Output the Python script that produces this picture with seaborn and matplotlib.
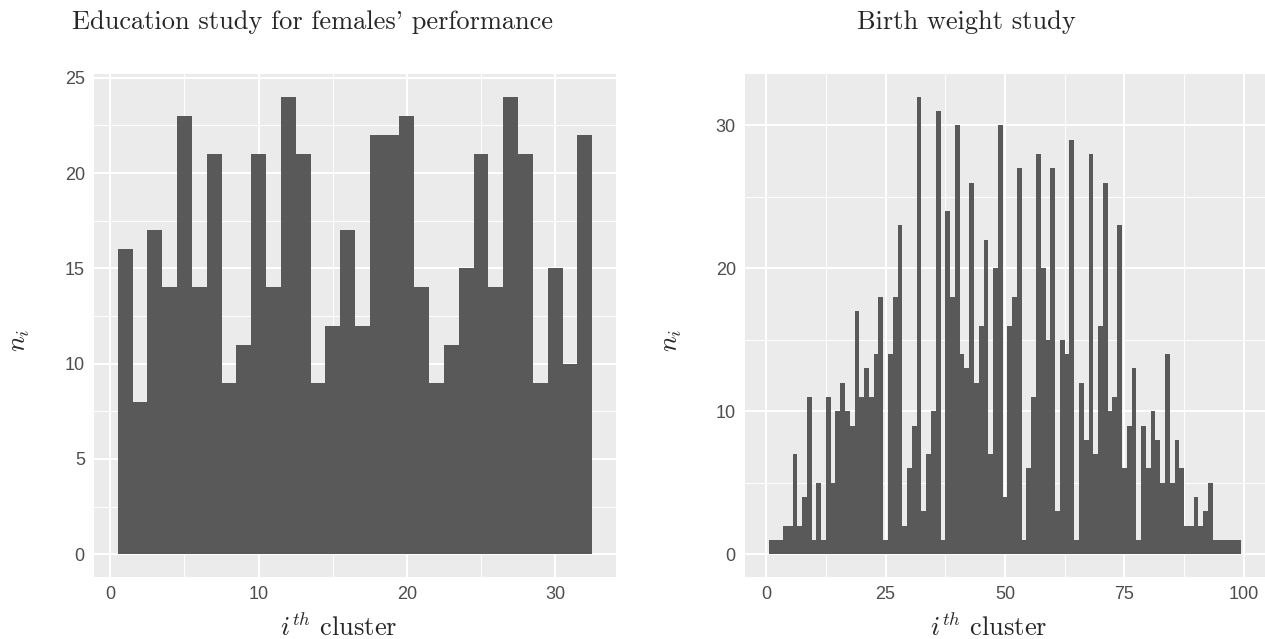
import matplotlib
matplotlib.use("Agg")
import matplotlib.pyplot as plt
import pandas as pd
import seaborn as sns
from matplotlib.ticker import MultipleLocator

# cluster sizes
edu_cluster = list(range(1, 33))
edu_n = [16, 8, 17, 14, 23, 14, 21, 9, 11, 21, 14, 24, 21, 9, 12, 17,
         12, 22, 22, 23, 14, 9, 11, 15, 21, 14, 24, 21, 9, 15, 10, 22]

bw_cluster = list(range(1, 100))
bw_n = [1, 1, 1, 2, 2, 7, 2, 4, 11, 1, 5, 1, 11, 5, 10, 12, 10, 9, 17, 11,
        13, 11, 14, 18, 1, 14, 18, 23, 2, 6, 9, 32, 3, 7, 10, 31, 1, 24, 18, 30,
        14, 13, 26, 12, 16, 22, 7, 20, 30, 4, 16, 18, 27, 1, 6, 11, 28, 20, 15, 27,
        3, 15, 14, 29, 1, 12, 8, 28, 7, 16, 26, 10, 11, 23, 6, 9, 13, 1, 9, 6,
        10, 8, 5, 14, 5, 8, 6, 2, 2, 4, 2, 3, 5, 1, 1, 1, 1, 1, 1]

titles = ["Education study for females' performance", "Birth weight study"]

sns.set_style("darkgrid", {"axes.facecolor": "#EBEBEB", "grid.color": "white",
                           "axes.edgecolor": "none"})
plt.rcParams["font.family"] = ["Liberation Sans", "DejaVu Sans"]
plt.rcParams["mathtext.fontset"] = "cm"

fig = plt.figure(figsize=(12.65, 6.39), dpi=100)
ax1 = fig.add_axes([94 / 1265, 62 / 639, 522 / 1265, 503 / 639])
ax2 = fig.add_axes([745 / 1265, 62 / 639, 520 / 1265, 503 / 639])

panels = [
    (ax1, pd.DataFrame({"cluster": edu_cluster, "n": edu_n}), 10, 5, (-1.1, 34.1), (-1.2, 25.2)),
    (ax2, pd.DataFrame({"cluster": bw_cluster, "n": bw_n}), 25, 10, (-4.45, 104.45), (-1.6, 33.6)),
]

for ax, df, xstep, ystep, xlim, ylim in panels:
    sns.barplot(data=df, x="cluster", y="n", native_scale=True, width=1,
                color="#595959", saturation=1, linewidth=0, errorbar=None, ax=ax)
    ax.set_xlim(*xlim)
    ax.set_ylim(*ylim)
    ax.xaxis.set_major_locator(MultipleLocator(xstep))
    ax.xaxis.set_minor_locator(MultipleLocator(xstep / 2))
    ax.yaxis.set_major_locator(MultipleLocator(ystep))
    ax.yaxis.set_minor_locator(MultipleLocator(ystep / 2))
    ax.grid(which="major", color="white", lw=1.45)
    ax.grid(which="minor", color="white", lw=0.7)
    ax.set_axisbelow(True)
    ax.tick_params(which="major", length=3.6, width=1.0, color="#333333",
                   labelcolor="#4D4D4D", labelsize=13, pad=3)
    ax.tick_params(which="minor", length=0)
    ax.set_xlabel(r"$i^{th}$ cluster", fontsize=19, family="cmr10",
                  ha="left", va="baseline")
    ax.set_ylabel(r"$n_i$", fontsize=19, va="center")
    w = ax.get_position().width * 1265
    ax.xaxis.set_label_coords(0.356, -59 / 503)
    ax.yaxis.set_label_coords(-73.5 / w, 0.471)

fig.text(72 / 1265, 1 - 29 / 639, titles[0], family="cmr10", fontsize=19, va="baseline", ha="left")
fig.text(857 / 1265, 1 - 29 / 639, titles[1], family="cmr10", fontsize=19, va="baseline", ha="left")

fig.savefig("out.png", dpi=100)
